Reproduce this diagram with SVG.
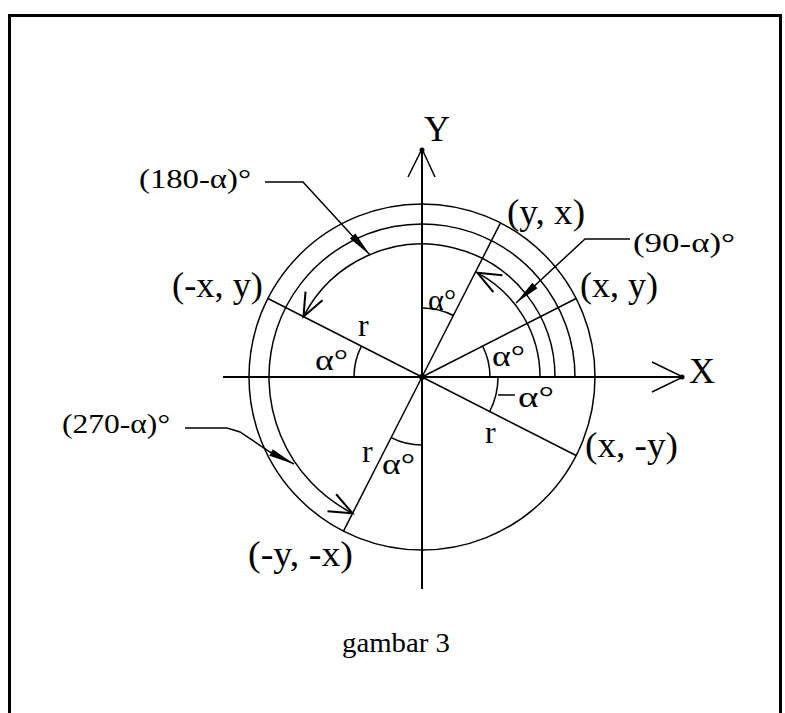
<svg xmlns="http://www.w3.org/2000/svg" width="785" height="713" viewBox="0 0 785 713">
<style>
.ln{fill:none;stroke:#000;stroke-width:1.5}
.ax{fill:none;stroke:#000;stroke-width:2}
.t{font-family:"Liberation Serif","Times New Roman",serif;fill:#000}
.co{font-size:35px}
.an{font-size:27px}
.al{font-size:30px}
.r{font-size:32px}
</style>
<defs>
<marker id="open" markerUnits="userSpaceOnUse" orient="auto" markerWidth="30" markerHeight="30" refX="0" refY="0" viewBox="-20 -10 22 20" overflow="visible">
<path d="M-17,-7 L0,0 L-17,7" fill="none" stroke="#000" stroke-width="1.5"/>
</marker>
<marker id="lead" markerUnits="userSpaceOnUse" orient="auto" markerWidth="30" markerHeight="30" refX="0" refY="0" viewBox="-26 -5 28 10" overflow="visible">
<path d="M0,0 L-24,-3.5 L-24,3.5 Z" fill="#000"/>
</marker>
</defs>
<rect width="785" height="713" fill="#fff"/>
<path id="frame" d="M9.5,713 V15.5 H780.5 V713" fill="none" stroke="#000" stroke-width="3"/>

<g id="axes">
<line class="ax" x1="223" y1="377" x2="683" y2="377"/>
<line class="ax" x1="422" y1="589" x2="422" y2="149"/>
<polyline class="ln" points="408,177 422,149 435,177"/>
<polyline class="ln" points="652,362 683,377 652,392"/>
<circle cx="422" cy="150" r="2.5" fill="#000"/>
<circle cx="682" cy="377" r="2.5" fill="#000"/>
<circle cx="422" cy="377" r="3" fill="#000"/>
<text class="t" x="424" y="141" font-size="36">Y</text>
<text class="t" x="689" y="383" font-size="36">X</text>
</g>

<g id="circle">
<circle class="ln" cx="422" cy="377" r="173"/>
</g>

<g id="connectors">
<path class="ln" d="M540,377 A118,118 0 0 0 477.4,272.8" marker-end="url(#open)"/>
<path class="ln" d="M555,377 A133,133 0 0 0 303.5,316.6" marker-end="url(#open)"/>
<path class="ln" d="M575,377 A153,153 0 1 0 352.5,513.3" marker-end="url(#open)"/>
<polyline class="ln" points="265,182 303,182 370,255" marker-end="url(#lead)"/>
<polyline class="ln" points="630,239 585,239 516,303" marker-end="url(#lead)"/>
<polyline class="ln" points="185,428 227,428 240,432 270,452 294,464" marker-end="url(#lead)"/>
</g>

<g id="radials">
<line class="ln" x1="422" y1="377" x2="576.1" y2="298.5"/>
<line class="ln" x1="422" y1="377" x2="500.5" y2="222.9"/>
<line class="ln" x1="422" y1="377" x2="267.9" y2="298.5"/>
<line class="ln" x1="422" y1="377" x2="576.1" y2="455.5"/>
<line class="ln" x1="422" y1="377" x2="343.5" y2="531.1"/>
</g>

<g id="angles">
<path class="ln" d="M490,377 A68,68 0 0 0 482.6,346.1"/>
<path class="ln" d="M361.4,346.1 A68,68 0 0 0 354,377"/>
<path class="ln" d="M453.3,315.5 A69,69 0 0 0 422,308"/>
<path class="ln" d="M391.1,437.6 A68,68 0 0 0 422,445"/>
<path class="ln" d="M489.7,411.5 A76,76 0 0 0 498,377"/>
<line class="ln" x1="498" y1="395" x2="515" y2="395"/>
<text class="t al" x="315" y="370" textLength="33" lengthAdjust="spacingAndGlyphs">α°</text>
<text class="t al" x="492" y="366" textLength="33" lengthAdjust="spacingAndGlyphs">α°</text>
<text class="t al" x="428" y="310" textLength="28" lengthAdjust="spacingAndGlyphs">α°</text>
<text class="t al" x="518" y="407" textLength="36" lengthAdjust="spacingAndGlyphs">α°</text>
<text class="t al" x="382" y="474" textLength="33" lengthAdjust="spacingAndGlyphs">α°</text>
<text class="t r" x="358" y="336">r</text>
<text class="t r" x="485" y="443">r</text>
<text class="t r" x="362" y="462">r</text>
</g>

<g id="label-xy"><text class="t co" x="580" y="297" textLength="78" lengthAdjust="spacingAndGlyphs">(x, y)</text></g>
<g id="label-yx"><text class="t co" x="507" y="224" textLength="78" lengthAdjust="spacingAndGlyphs">(y, x)</text></g>
<g id="label-mxy"><text class="t co" x="172" y="297" textLength="91" lengthAdjust="spacingAndGlyphs">(-x, y)</text></g>
<g id="label-xmy"><text class="t co" x="585" y="457" textLength="93" lengthAdjust="spacingAndGlyphs">(x, -y)</text></g>
<g id="label-mymx"><text class="t co" x="248" y="566" textLength="105" lengthAdjust="spacingAndGlyphs">(-y, -x)</text></g>

<g id="label-180"><text class="t an" x="139" y="188" textLength="112" lengthAdjust="spacingAndGlyphs">(180-α)°</text></g>
<g id="label-90"><text class="t an" x="633" y="252" textLength="102" lengthAdjust="spacingAndGlyphs">(90-α)°</text></g>
<g id="label-270"><text class="t an" x="62" y="433" textLength="108" lengthAdjust="spacingAndGlyphs">(270-α)°</text></g>

<g id="caption"><text class="t" x="342" y="652" font-size="28" textLength="108" lengthAdjust="spacingAndGlyphs">gambar 3</text></g>
</svg>
